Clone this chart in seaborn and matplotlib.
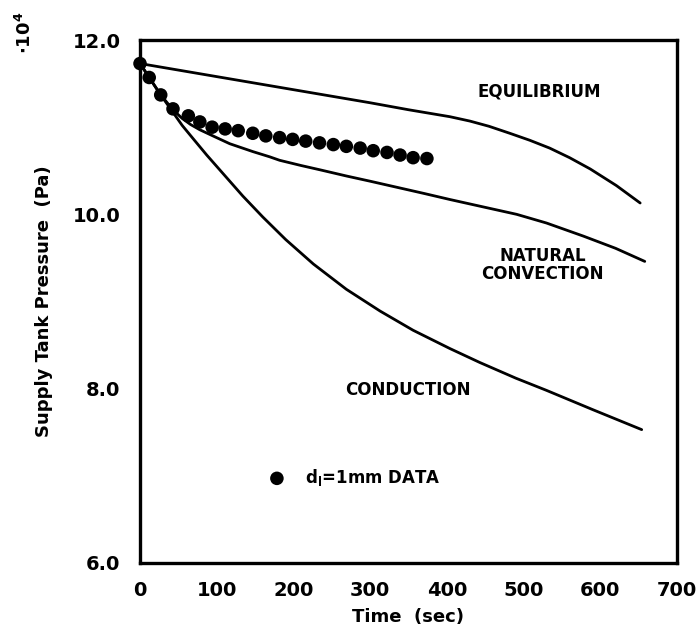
import numpy as np
import pandas as pd
import matplotlib
matplotlib.use("Agg")
import matplotlib.pyplot as plt
import seaborn as sns
from matplotlib.ticker import MultipleLocator, FixedLocator

# ---- data (time in s, pressure in units of 1e4 Pa) ----
data_t = [0, 12, 27, 43, 63, 78, 94, 111, 128, 147, 164, 182, 199, 216, 234,
          252, 269, 287, 304, 322, 339, 356, 374]
data_p = [11.73, 11.57, 11.37, 11.21, 11.13, 11.06, 11.00, 10.98, 10.96, 10.93,
          10.90, 10.88, 10.86, 10.84, 10.82, 10.80, 10.78, 10.76, 10.73, 10.71,
          10.68, 10.65, 10.64]

equil_t = [0, 100, 200, 300, 350, 404, 430, 455, 482, 508, 534, 560, 587, 621, 652]
equil_p = [11.73, 11.58, 11.43, 11.28, 11.20, 11.12, 11.07, 11.01, 10.93, 10.85,
           10.76, 10.65, 10.52, 10.33, 10.13]

natconv_t = [0, 12, 27, 43, 55, 66, 78, 95, 117, 147, 169, 182, 210, 235, 269, 300,
             340, 370, 404, 450, 491, 530, 578, 620, 658]
natconv_p = [11.73, 11.57, 11.37, 11.20, 11.10, 11.03, 10.97, 10.90, 10.81, 10.72,
             10.66, 10.62, 10.56, 10.51, 10.44, 10.38, 10.30, 10.24, 10.17, 10.08,
             10.00, 9.90, 9.75, 9.61, 9.46]

cond_t = [0, 12, 27, 43, 55, 70, 87, 110, 134, 160, 190, 226, 269, 313, 356, 404,
          443, 490, 530, 590, 654]
cond_p = [11.73, 11.57, 11.37, 11.17, 11.02, 10.86, 10.68, 10.45, 10.21, 9.97, 9.71,
          9.43, 9.14, 8.89, 8.67, 8.46, 8.30, 8.12, 7.98, 7.76, 7.53]

x_ticks = [0, 100, 200, 300, 400, 500, 600, 700]
y_ticks = [6, 8, 10, 12]
y_tick_labels = ["6.0", "8.0", "10.0", "12.0"]

sns.set_theme(style="white")
plt.rcParams["font.family"] = ["DejaVu Sans"]
plt.rcParams["font.weight"] = "bold"
plt.rcParams["mathtext.fontset"] = "dejavusans"
plt.rcParams["mathtext.default"] = "bf"
plt.rcParams["text.color"] = "black"
plt.rcParams["axes.labelcolor"] = "black"
plt.rcParams["xtick.color"] = "black"
plt.rcParams["ytick.color"] = "black"

fig = plt.figure(figsize=(6.99, 6.32), dpi=100)
ax = fig.add_axes([0.2003, 0.1092, 0.7682, 0.8275])

curves = pd.concat([
    pd.DataFrame({"t": equil_t, "p": equil_p, "model": "EQUILIBRIUM"}),
    pd.DataFrame({"t": natconv_t, "p": natconv_p, "model": "NATURAL CONVECTION"}),
    pd.DataFrame({"t": cond_t, "p": cond_p, "model": "CONDUCTION"}),
])
sns.lineplot(data=curves, x="t", y="p", units="model", estimator=None,
             color="black", lw=2.0, sort=False, ax=ax, legend=False)

pts = pd.DataFrame({"t": data_t, "p": data_p})
sns.scatterplot(data=pts, x="t", y="p", color="black", s=95, edgecolor="none",
                ax=ax, label=r"d$_{l}$=1mm DATA", zorder=5, clip_on=False)

ax.set_xlim(0, 700)
ax.set_ylim(6, 12)
ax.xaxis.set_major_locator(FixedLocator(x_ticks))
ax.xaxis.set_minor_locator(MultipleLocator(20))
ax.yaxis.set_major_locator(FixedLocator(y_ticks))
ax.yaxis.set_minor_locator(MultipleLocator(1))
ax.set_yticklabels(y_tick_labels)
ax.tick_params(axis="both", which="both", direction="in", top=False, right=False,
               colors="black", labelsize=14, width=1.8)
ax.tick_params(axis="both", which="major", length=8)
ax.tick_params(axis="both", which="minor", length=4)
ax.tick_params(axis="x", which="major", pad=13)
ax.tick_params(axis="y", which="major", pad=14)
for lab in ax.get_xticklabels() + ax.get_yticklabels():
    lab.set_fontweight("bold")
    lab.set_color("black")
for sp in ax.spines.values():
    sp.set_color("black")
    sp.set_linewidth(2.4)

ax.set_xlabel("Time  (sec)", fontsize=13, fontweight="bold", labelpad=6, color="black")
ax.set_ylabel("Supply Tank Pressure  (Pa)", fontsize=13, fontweight="bold",
              labelpad=14, color="black")

ax.text(521, 11.41, "EQUILIBRIUM", fontsize=12, fontweight="bold", ha="center",
        va="center", color="black")
ax.text(525, 9.42, "NATURAL\nCONVECTION", fontsize=12, fontweight="bold", ha="center",
        va="center", linespacing=0.95, color="black")
ax.text(349, 7.98, "CONDUCTION", fontsize=12, fontweight="bold", ha="center",
        va="center", color="black")

fig.text(0.036, 0.948, r"$\cdot$10$^4$", rotation=90, fontsize=13, fontweight="bold",
         ha="center", va="center", color="black")

leg = ax.legend(loc="center left", bbox_to_anchor=(0.227, 0.164), frameon=False,
                borderaxespad=0, handlelength=1.0, handletextpad=1.2,
                prop={"weight": "bold", "size": 12})
for t in leg.get_texts():
    t.set_color("black")

fig.savefig("out.png", dpi=100)
